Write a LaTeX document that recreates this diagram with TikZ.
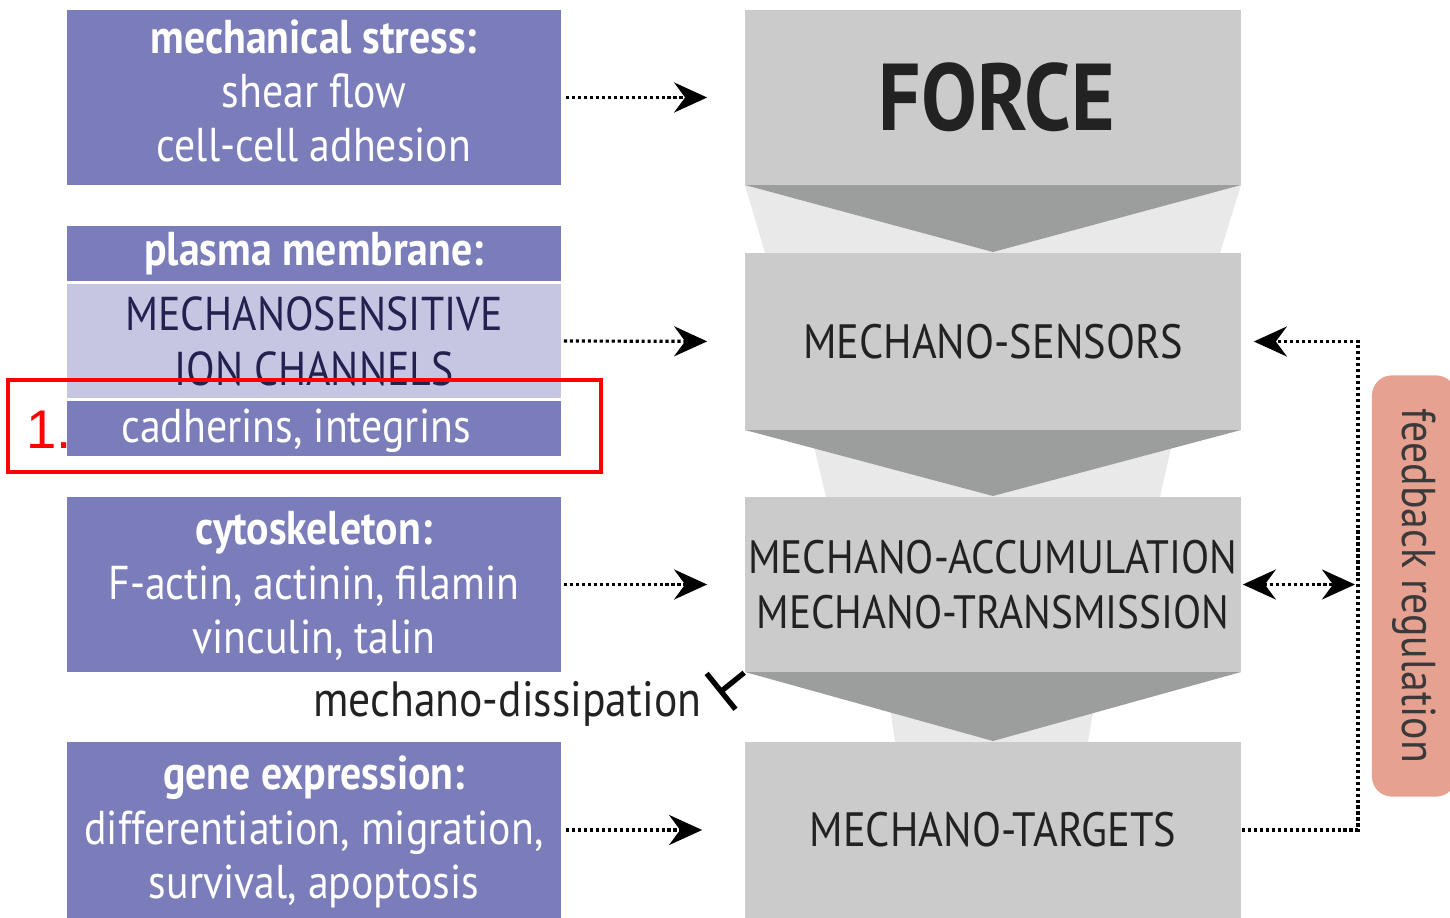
\documentclass[tikz,border=0pt]{standalone}
\usepackage{fontspec}
\setmainfont{PT Sans}[FakeStretch=0.88]
\newfontfamily\arialfont{Liberation Sans}
\usetikzlibrary{arrows.meta}
\definecolor{purp}{RGB}{123,125,186}
\definecolor{lpurp}{RGB}{198,197,226}
\definecolor{navy}{RGB}{35,33,79}
\definecolor{grayb}{RGB}{203,203,203}
\definecolor{darktri}{RGB}{155,158,157}
\definecolor{lighttrap}{RGB}{233,233,233}
\definecolor{salmon}{RGB}{230,161,145}
\definecolor{txtdark}{RGB}{34,34,34}
\definecolor{fbtext}{RGB}{58,58,58}
\tikzset{
  pbox/.style={fill=purp, draw=none, minimum width=4.94cm, inner sep=0pt, text=white, align=center,
    font=\fontsize{13.5}{15}\selectfont},
  ptext/.style={inner sep=0pt, text=white, align=center, font=\fontsize{13.5}{15}\selectfont},
  lbox/.style={fill=lpurp, draw=none, minimum width=4.94cm, inner sep=0pt, text=navy, align=center,
    font=\fontsize{13.5}{15}\selectfont},
  gbox/.style={fill=grayb, draw=none, minimum width=4.96cm, inner sep=0pt, text=txtdark, align=center,
    font=\fontsize{13.5}{15}\selectfont},
  dotline/.style={line width=0.9pt, dash pattern=on 0.9pt off 0.8pt},
  tipR/.style={-{Stealth[length=3.3mm,width=3mm,inset=1.1mm]}},
  tipB/.style={{Stealth[length=3.3mm,width=3mm,inset=1.1mm]}-{Stealth[length=3.3mm,width=3mm,inset=1.1mm]}},
}
\begin{document}
\begin{tikzpicture}[x=0.01cm,y=-0.01cm]
\path[use as bounding box] (0,0) rectangle (1450,918);
\clip (0,0) rectangle (1450,918);
% funnels
\fill[lighttrap] (745,185) -- (1241,185) -- (1220,253) -- (765,253) -- cycle;
\fill[darktri] (745,185) -- (1241,185) -- (993,252) -- cycle;
\fill[lighttrap] (810,430) -- (1175,430) -- (1160,497) -- (826,497) -- cycle;
\fill[darktri] (745,430) -- (1241,430) -- (993,496) -- cycle;
\fill[lighttrap] (885,672) -- (1100,672) -- (1088,742) -- (895,742) -- cycle;
\fill[darktri] (745,672) -- (1241,672) -- (993,741) -- cycle;
% left boxes
\node[pbox, minimum height=1.75cm] (s1) at (314,97.5) {};
\node[ptext] (s1t) at (314,91)
  {\textbf{mechanical stress:}\\[0.4pt] shear flow\\[0.4pt] cell-cell adhesion};
\node[pbox, minimum height=0.55cm] (s2h) at (314,253.5) {\textbf{plasma membrane:}};
\node[lbox, minimum height=1.14cm] (s2m) at (314,341) {MECHANOSENSITIVE\\[0.6pt] ION CHANNELS};
\node[pbox, minimum height=0.55cm] (s2l) at (314,428.5) {};
\node[ptext] (s2lt) at (296,431) {cadherins, integrins};
\node[pbox, minimum height=1.75cm] (s3) at (314,584.5) {};
\node[ptext] (s3t) at (314,586)
  {\textbf{cytoskeleton:}\\[0.4pt] F-actin, actinin, filamin\\[0.4pt] vinculin, talin};
\node[pbox, minimum height=1.76cm] (s4) at (314,830) {};
\node[ptext] (s4t) at (314,832)
  {\textbf{gene expression:}\\[0.4pt] differentiation, migration,\\[0.4pt] survival, apoptosis};
% right boxes
\node[gbox, minimum height=1.75cm] (f) at (993,97.5) {};
\node[inner sep=0pt, text=txtdark, font=\bfseries\fontsize{27}{30}\selectfont] (ft) at (997,97) {FORCE};
\node[gbox, minimum height=1.77cm, font=\fontsize{13.7}{15}\selectfont] (ms) at (993,341.5) {MECHANO-SENSORS};
\node[gbox, minimum height=1.75cm, font=\fontsize{13.3}{15}\selectfont] (ma) at (993,584.5) {MECHANO-ACCUMULATION\\[0.6pt] MECHANO-TRANSMISSION};
\node[gbox, minimum height=1.76cm, font=\fontsize{13.7}{15}\selectfont] (mt) at (993,830) {MECHANO-TARGETS};
% arrows
\draw[dotline, tipR, shorten <=0.04cm, shorten >=0.37cm] (s1.east) -- (f.west);
\draw[dotline, tipR, shorten <=0.02cm, shorten >=0.37cm] (s2m.east) -- (ms.west);
\draw[dotline, tipR, shorten <=0.02cm, shorten >=0.37cm] (s3.east) -- (ma.west);
\draw[dotline, tipR, shorten <=0.04cm, shorten >=0.42cm] (s4.east) -- (mt.west);
% feedback
\coordinate (fbB) at (1358,830);
\coordinate (fbM) at (1358,584.5);
\draw[dotline, tipR, shorten >=0.12cm] (mt.east) -- (fbB) |- (ms.east);
\draw[dotline, tipB, shorten <=0.01cm, shorten >=0.03cm] (ma.east) -- (fbM);
\node[fill=salmon, rounded corners=0.2cm, rotate=-90, minimum width=4.21cm, minimum height=0.84cm,
  inner sep=0pt, text=fbtext, font=\fontsize{13.5}{15}\selectfont] (fbk) at (1414,586) {feedback regulation};
% mechano-dissipation
\node[text=txtdark, font=\fontsize{14.1}{15}\selectfont, anchor=east, inner sep=0pt] (md) at (702,704) {mechano-dissipation};
\coordinate (inh) at (719,693);
\draw[line width=1.5pt, -{Bar[width=4.6mm, line width=1.5pt]}] (ma.south west) -- (inh);
% red annotation
\node[draw=red, line width=1.1pt, minimum width=5.93cm, minimum height=0.92cm, inner sep=0pt] (rb) at (304.5,426) {};
\node[text=red, font=\arialfont\fontsize{15.5}{18}\selectfont, inner sep=0pt] (rl) at (49,430) {1.};
\end{tikzpicture}
\end{document}
